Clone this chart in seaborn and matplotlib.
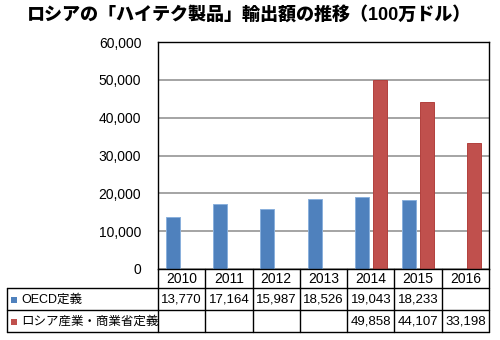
import numpy as np
import pandas as pd
import matplotlib
matplotlib.use("Agg")
import matplotlib.pyplot as plt
import seaborn as sns
from matplotlib.lines import Line2D
from matplotlib.patches import Rectangle

years = ["2010", "2011", "2012", "2013", "2014", "2015", "2016"]
series_names = ["OECD定義", "ロシア産業・商業省定義"]
oecd = [13770, 17164, 15987, 18526, 19043, 18233, np.nan]
russia = [np.nan, np.nan, np.nan, np.nan, 49858, 44107, 33198]
yticks = [0, 10000, 20000, 30000, 40000, 50000, 60000]
title = "ロシアの「ハイテク製品」輸出額の推移（100万ドル）"

blue = "#4F81BD"
red = "#C0504D"

sns.set_theme(style="white")
plt.rcParams["font.family"] = ["Liberation Sans", "Noto Sans CJK JP"]

df = pd.DataFrame({
    "year": years * 2,
    "series": [series_names[0]] * len(years) + [series_names[1]] * len(years),
    "value": oecd + russia,
})

W, H = 500, 340
fig = plt.figure(figsize=(5, 3.4), dpi=100)
fig.patch.set_facecolor("white")

L, R, T, B = 158, 489, 42, 269
ax = fig.add_axes([L / W, 1 - B / H, (R - L) / W, (B - T) / H])

sns.barplot(data=df, x="year", y="value", hue="series", hue_order=series_names,
            order=years, palette=[blue, red], saturation=1, width=0.76, gap=0.22,
            errorbar=None, legend=False, ax=ax, linewidth=0.7)
edge_cols = ["#8AB0DC", "#B2403D"]
for cont, ec in zip(ax.containers, edge_cols):
    for p in cont:
        p.set_edgecolor(ec)

ax.set_ylim(0, 60000)
ax.set_xlim(-0.5, len(years) - 0.5)
ax.set_yticks(yticks)
ax.set_yticklabels([f"{v:,}" for v in yticks], fontsize=10, color="black")
ax.tick_params(axis="y", length=0, pad=12)
ax.set_xticks([])
ax.set_xlabel("")
ax.set_ylabel("")
ax.yaxis.grid(True, color="#8C8C8C", linewidth=1.1)
ax.set_axisbelow(True)
for s in ax.spines.values():
    s.set_visible(True)
    s.set_color("black")
    s.set_linewidth(1.0)

def fx(x):
    return x / W

def fy(y):
    return 1 - y / H

def hline(x0, x1, y, lw=1.0):
    fig.add_artist(Line2D([fx(x0), fx(x1)], [fy(y), fy(y)], color="black", lw=lw))

def vline(x, y0, y1, lw=1.0):
    fig.add_artist(Line2D([fx(x), fx(x)], [fy(y0), fy(y1)], color="black", lw=lw))

# table geometry
tl = 7
r0, r1, r2, r3 = 269, 288, 310, 332
ncol = len(years)
cw = (R - L) / ncol

hline(tl, R, r1)
hline(tl, R, r2)
hline(tl, R, r3)
vline(tl, r1, r3)
vline(L, r0, r3)
vline(R, r0, r3)
for i in range(1, ncol):
    vline(L + i * cw, r0, r3)

for i, yr in enumerate(years):
    fig.text(fx(L + (i + 0.5) * cw), fy((r0 + r1) / 2 + 0.5), yr,
             ha="center", va="center", fontsize=10, color="black")

rows = [(oecd, blue, series_names[0], (r1 + r2) / 2),
        (russia, red, series_names[1], (r2 + r3) / 2)]
for vals, col, name, yc in rows:
    for i, v in enumerate(vals):
        if not np.isnan(v):
            fig.text(fx(L + (i + 0.5) * cw), fy(yc + 0.5), f"{int(v):,}",
                     ha="center", va="center", fontsize=9.5, color="black")
    fig.add_artist(Rectangle((fx(11), fy(yc + 3.5)), 6 / W, 6 / H,
                             facecolor=col, edgecolor="none",
                             transform=fig.transFigure))
    fig.text(fx(21), fy(yc + 0.5), name, ha="left", va="center",
             fontsize=9, color="black")

fig.text(fx(27), fy(14.5), title, ha="left", va="center",
         fontsize=13, fontweight="heavy", color="black")

fig.savefig("out.png", dpi=100, facecolor="white")
